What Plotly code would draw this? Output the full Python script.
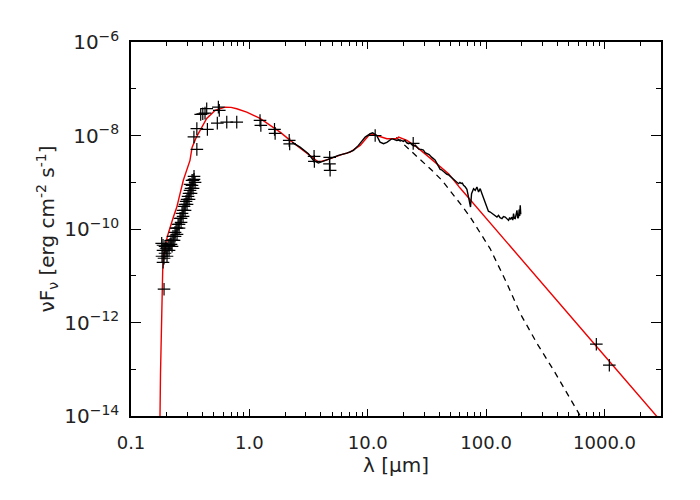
import numpy as np
import plotly.graph_objects as go

# Modele total (rouge)
model_wl = [0.1742, 0.1758, 0.1775, 0.1794, 0.1822, 0.1853, 0.1895, 0.194, 0.203, 0.2135, 0.228, 0.2434,
            0.2766, 0.315, 0.328, 0.355, 0.383, 0.436, 0.513, 0.58, 0.623, 0.70, 0.782, 0.95, 1.23,
            1.5, 1.818, 2.21, 2.8, 3.475, 3.83, 4.4, 5.13, 6.0, 7.1, 8.63, 9.6, 10.5, 11.9, 14.5,
            17.6, 18.2, 21.4, 26.0, 31.6, 38.4, 48.1, 60.0, 78.3, 123.0, 200.0, 500.0, 1000.0, 3500.0]
model_f = [5e-15, 1e-14, 8e-14, 4.2e-13, 3.0e-12, 1.32e-11, 2.8e-11, 4.2e-11, 7.0e-11, 1.09e-10, 1.8e-10, 2.91e-10,
           1.1e-9, 2.94e-9, 5.57e-9, 9.0e-9, 1.28e-8, 2.32e-8, 3.44e-8, 3.9e-8, 4.05e-8, 4.0e-8, 3.74e-8, 3.16e-8, 2.32e-8,
           1.65e-8, 1.18e-8, 7.85e-9, 4.9e-9, 3.19e-9, 2.7e-9, 2.95e-9, 3.45e-9, 3.9e-9, 4.42e-9, 6.14e-9, 8.4e-9,
           1.09e-8, 1.0e-8, 8.55e-9,
           8.55e-9, 9.25e-9, 7.85e-9, 5.65e-9, 3.76e-9, 2.5e-9, 1.53e-9, 7.6e-10, 3.49e-10, 9.4e-11, 2.24e-11, 1.5e-12,
           1.95e-13, 4.9e-15]

# Modele sans enveloppe froide (tirets)
dash_wl = [17.4, 22.1, 27.7, 34.8, 42.3, 49.7, 60.4, 73.4, 108.0, 150.0, 194.0, 269.0, 372.0, 624.0, 688.0]
dash_f = [9.1e-9, 5.22e-9, 3.19e-9, 1.8e-9, 1.1e-9, 6.7e-10, 3.49e-10, 1.8e-10, 3.81e-11, 6.8e-12,
          1.56e-12, 3.56e-13, 9.5e-14, 1e-14, 5e-15]

# Spectre ISO (noir)
spec_wl = [2.30, 2.68, 3.15, 3.48, 3.83, 4.22, 4.81, 5.65, 6.66, 7.57, 8.34, 9.51, 10.5, 11.0, 11.9,
           12.7, 13.6, 14.5, 16.0, 17.6, 18.8, 19.4, 20.0, 20.6, 21.3, 22.1, 22.8, 23.7, 24.5, 25.2,
           26.0, 27.0, 28.3, 29.5, 30.5, 31.6, 33.0, 34.8, 36.0, 37.0, 38.4, 39.5, 40.9, 42.0, 43.4,
           45.0, 46.6, 48.0, 49.7, 51.5, 53.0, 55.0, 56.6, 58.4, 60.0, 61.6, 63.0, 64.4, 66.5, 67.5,
           68.8, 71.0, 72.4, 73.8, 75.3, 78.3, 80.9, 83.6, 86.3, 89.1, 92.2, 95.1, 98.3, 101.5, 104.5,
           108.3, 111.0, 115.5, 119.0, 123.4, 127.3, 131.0, 136.0, 140.0, 145.0, 150.0, 154.6, 158.0,
           161.0, 165.2, 168.0, 170.4, 173.0, 176.2, 179.0, 182.1, 185.0, 187.9, 190.0, 192.0, 194.1, 196.1]
spec_f = [7.12e-9, 5.65e-9, 4.08e-9, 2.94e-9, 2.57e-9, 2.84e-9, 3.19e-9, 3.76e-9, 4.21e-9, 4.81e-9,
          6.14e-9, 9.25e-9, 1.09e-8, 1.14e-8, 1.0e-8, 7.23e-9, 6.68e-9, 7.12e-9, 8.55e-9, 7.85e-9,
          8.05e-9, 7.7e-9, 7.48e-9, 7.9e-9, 7.0e-9, 6.68e-9, 6.9e-9, 6.3e-9, 6.0e-9, 6.2e-9,
          5.65e-9, 5.1e-9, 5.05e-9, 4.9e-9, 4.3e-9, 4.08e-9, 3.9e-9, 3.4e-9, 3.2e-9, 3.0e-9,
          2.54e-9, 2.25e-9, 1.89e-9, 1.85e-9, 1.71e-9, 1.62e-9, 1.48e-9, 1.45e-9, 1.34e-9, 1.22e-9,
          1.19e-9, 1.1e-9, 9.95e-10, 9.33e-10, 9.9e-10, 9.46e-10, 9.6e-10, 8.59e-10, 7.98e-10, 7.5e-10,
          7.05e-10, 4.83e-10, 3.54e-10, 2.95e-10, 5.7e-10, 7.3e-10, 6.71e-10, 7.88e-10, 6.17e-10, 7.3e-10,
          5.7e-10, 4.47e-10, 3.78e-10, 2.73e-10, 2.4e-10, 2.31e-10, 2.2e-10, 2.13e-10, 2.0e-10, 1.8e-10,
          1.96e-10, 1.75e-10, 1.67e-10, 1.85e-10, 1.8e-10, 1.6e-10, 1.53e-10, 1.75e-10, 1.6e-10, 1.8e-10,
          1.55e-10, 2.13e-10, 1.7e-10, 1.67e-10, 2.2e-10, 2.51e-10, 1.7e-10, 1.8e-10, 2.6e-10, 1.9e-10,
          3.2e-10, 2.06e-10]

# Photometrie (croix)
phot_wl = [0.34, 0.36, 0.36, 0.388, 0.404, 0.422, 0.436, 0.442, 0.547, 0.557, 0.536, 0.644, 0.782,
           1.23, 1.25, 1.63, 1.65, 2.17, 2.19, 3.52, 3.54, 4.77, 4.75, 4.81, 11.55, 24.2, 853.0, 1098.0]
phot_f = [9.3e-9, 1.4e-8, 5.05e-9, 2.82e-8, 2.92e-8, 3.01e-8, 3.74e-8, 1.35e-8, 4.05e-8, 3.44e-8, 1.84e-8,
          1.93e-8, 1.93e-8, 2.1e-8, 1.64e-8, 1.35e-8, 1.11e-8, 7.85e-9, 6.6e-9, 3.57e-9, 2.8e-9, 3.4e-9,
          2.47e-9, 1.8e-9, 1.0e-8, 6.78e-9, 3.43e-13, 1.22e-13]

# Spectre UV (croix serrees)
uv_wl = [0.1828, 0.1864, 0.1901, 0.1864, 0.1938, 0.1977, 0.2015, 0.2055, 0.2096, 0.2137, 0.2179, 0.2222,
         0.2265, 0.2310, 0.2355, 0.2402, 0.2448, 0.2497, 0.2545, 0.2596, 0.2647, 0.2698, 0.2752, 0.2805,
         0.2861, 0.2917, 0.2974, 0.3032, 0.3092, 0.3152, 0.3214, 0.3277, 0.3342, 0.3407, 0.3475, 0.3407,
         0.3342, 0.3152, 0.1901, 0.1817, 0.1864, 0.1938, 0.2015, 0.2096, 0.2179, 0.2265, 0.2355, 0.2448,
         0.2545, 0.2647, 0.2752, 0.2861, 0.2974, 0.3092, 0.3214, 0.3277]
uv_f = [2.61e-11, 3.5e-11, 2.37e-11, 1.94e-11, 3.03e-11, 3.87e-11, 2.61e-11, 4.49e-11, 3.5e-11, 4.71e-11,
        5.73e-11, 4.27e-11, 6.98e-11, 5.73e-11, 8.5e-11, 1.04e-10, 7.7e-11, 1.26e-10, 1.04e-10, 1.69e-10,
        1.39e-10, 2.16e-10, 1.87e-10, 3.05e-10, 2.51e-10, 3.91e-10, 3.37e-10, 5.0e-10, 4.31e-10, 6.71e-10,
        5.79e-10, 8.59e-10, 7.41e-10, 1.15e-9, 9.95e-10, 1.34e-9, 1.1e-9, 9.02e-10, 5.15e-12, 4.94e-11,
        4.49e-11, 4.27e-11, 3.5e-11, 4.49e-11, 4.71e-11, 5.73e-11, 6.98e-11, 1.04e-10, 1.26e-10, 1.69e-10,
        2.51e-10, 3.37e-10, 4.31e-10, 5.79e-10, 7.41e-10, 1.1e-9]

x_ticks = [0.1, 1.0, 10.0, 100.0, 1000.0]
x_labels = ["0.1", "1.0", "10.0", "100.0", "1000.0"]
y_ticks = [1e-6, 1e-8, 1e-10, 1e-12, 1e-14]
y_labels = ["10<sup>\u2212%d</sup>" % e for e in (6, 8, 10, 12, 14)]
y_minor = [1e-7, 1e-9, 1e-11, 1e-13]
x_minor = [m * 10.0 ** d for d in range(-1, 4) for m in range(2, 10)]

fig = go.Figure()
fig.add_trace(go.Scatter(x=dash_wl, y=dash_f, mode="lines",
                         line=dict(color="black", width=1.3, dash="6px,5px")))
fig.add_trace(go.Scatter(x=model_wl, y=model_f, mode="lines",
                         line=dict(color="#ee0000", width=1.4)))
fig.add_trace(go.Scatter(x=spec_wl, y=spec_f, mode="lines",
                         line=dict(color="black", width=1.4)))
fig.add_trace(go.Scatter(x=uv_wl + phot_wl, y=uv_f + phot_f, mode="markers",
                         marker=dict(symbol="cross-thin", size=9, color="black",
                                     line=dict(color="black", width=1.2))))

font_fam = "DejaVu Sans, Liberation Sans, sans-serif"
fig.update_layout(
    width=700, height=500,
    margin=dict(l=123, r=47, t=34, b=92),
    paper_bgcolor="white", plot_bgcolor="white",
    showlegend=False,
    font=dict(family=font_fam, size=18, color="#222"),
    xaxis=dict(type="log", range=[-1, np.log10(3000)], showgrid=False, zeroline=False,
               showline=True, linecolor="black", linewidth=1.5, mirror="ticks",
               ticks="inside", ticklen=7, tickwidth=1.2, tickcolor="black",
               tickvals=x_ticks, ticktext=x_labels, ticklabelstandoff=10,
               tickfont=dict(family=font_fam, size=18, color="#222"),
               minor=dict(ticks="inside", ticklen=4, tickwidth=1, tickcolor="black",
                          tickvals=x_minor, showgrid=False),
               title=dict(text="\u03bb [\u03bcm]", standoff=0,
                          font=dict(family=font_fam, size=20, color="#222"))),
    yaxis=dict(type="log", range=[-14, -6], showgrid=False, zeroline=False,
               showline=True, linecolor="black", linewidth=1.5, mirror="ticks",
               ticks="inside", ticklen=10, tickwidth=1.2, tickcolor="black",
               tickvals=y_ticks, ticktext=y_labels, ticklabelstandoff=6,
               tickfont=dict(family=font_fam, size=20, color="#222"),
               minor=dict(ticks="inside", ticklen=5, tickwidth=1, tickcolor="black",
                          tickvals=y_minor, showgrid=False),
               title=dict(text="\u03bdF<sub>\u03bd</sub> [erg cm<sup>-2</sup> s<sup>-1</sup>]",
                          standoff=4, font=dict(family=font_fam, size=20, color="#222"))),
)

fig.write_html("out.html")
